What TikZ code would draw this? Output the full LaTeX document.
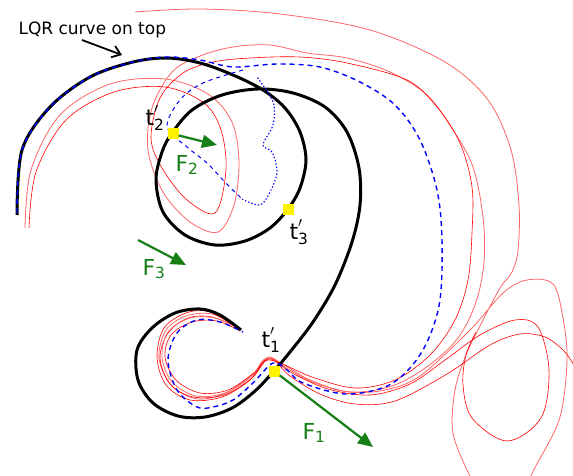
\documentclass[tikz,border=0pt]{standalone}
\usepackage{fontspec}
\setmainfont{DejaVu Sans}
\usepackage{tikz}
\usetikzlibrary{positioning,arrows.meta}
\definecolor{fgreen}{RGB}{22,128,22}
\newcommand{\tpr}[1]{$\mathrm{t}'_{\mathrm{#1}}$}
\newcommand{\fsub}[1]{$\mathrm{F}_{\mathrm{#1}}$}
\tikzset{
  traj/.style={black, line width=3pt, line join=round},
  lqr/.style={blue, line width=1.4pt, dash pattern=on 5pt off 4pt},
  lqrthin/.style={blue, line width=1pt, dash pattern=on 4pt off 4pt},
  lqrdot/.style={blue, line width=1.1pt, dash pattern=on 1.4pt off 2pt},
  sim/.style={red, line width=0.6pt},
  simlight/.style={red!60, line width=0.8pt},
  ypoint/.style={fill=yellow, minimum size=11pt, inner sep=0pt},
  force/.style={fgreen, line width=2.2pt, -{Triangle[length=15pt,width=13pt]}},
  flabel/.style={text=fgreen, font=\fontsize{22}{24}\selectfont},
  tlabel/.style={font=\fontsize{22}{24}\selectfont}
}

\begin{document}
\begin{tikzpicture}[x=1pt,y=-1pt]
\useasboundingbox (0,0) rectangle (573,476);

\draw[simlight] plot[smooth, tension=0.55] coordinates {(238,327) (212,314) (186,316) (166,330) (159,358) (172,386) (198,399) (228,392) (255,372) (269,357) (288,369) (315,383) (350,392) (385,390) (420,376) (470,330) (503,293) (527,280) (553,284) (563,318) (567,360) (560,417) (538,462) (515,500) (488,505) (470,476) (453,433) (455,390) (466,355) (482,322) (500,288) (512,272) (518,250) (519,205) (511,150) (488,100) (445,62) (370,30) (280,14) (200,9) (135,12)};
\draw[sim] plot[smooth, tension=0.55] coordinates {(240,330) (210,312) (186,313) (164,328) (157,357) (166,385) (190,400) (222,397) (250,380) (269,358) (290,376) (320,394) (355,404) (395,401) (447,374) (490,345) (520,334) (545,337) (563,350) (572,362) (578,372)};
\draw[sim] plot[smooth, tension=0.55] coordinates {(238,328) (212,317) (188,318) (168,333) (160,358) (170,384) (193,397) (224,395) (252,378) (269,359) (292,373) (328,389) (370,395) (410,384) (445,360) (480,335) (515,320) (538,327) (549,370) (541,418) (507,441) (472,418) (463,385) (466,355) (476,332)};
\draw[simlight] plot[smooth, tension=0.55] coordinates {(25,228) (31,170) (60,115) (110,84) (165,79) (208,94) (232,122) (239,162) (234,205) (218,232) (190,222) (163,192) (148,150) (152,108) (172,72) (200,56) (233,47) (270,45) (307,53) (347,58) (390,72) (427,95) (453,130) (473,167) (483,217) (484,262) (476,302) (458,338) (428,366) (392,386) (350,392) (310,380) (269,358) (252,376) (225,393) (196,396) (172,382) (162,357) (168,332) (190,318) (215,318) (238,328)};
\draw[sim] plot[smooth, tension=0.55] coordinates {(29,228) (36,172) (66,120) (114,92) (165,87) (204,103) (221,130) (226,170) (215,213) (186,199) (162,168) (151,138) (160,98) (183,73) (213,62) (250,58) (300,57) (347,63) (407,80) (437,107) (460,143) (472,187) (472,233) (468,280) (455,320) (430,355) (395,380) (355,388) (312,377) (270,360) (254,373) (228,390) (200,393) (176,380) (165,357) (171,335) (192,322) (217,321) (240,331)};

\draw[traj] plot[smooth, tension=0.55] coordinates {(17,215) (22,150) (50,107) (90,77) (133,62) (167,58) (200,63) (233,75) (263,90) (285,108) (300,132) (306,160) (300,188) (288,209) (270,228) (245,241) (215,245) (185,235) (163,212) (156,180) (162,152) (172,133) (192,110) (222,95) (258,89) (293,93) (325,107) (347,132) (359,168) (360,205) (352,242) (335,285) (313,322) (290,352) (274,371) (255,391) (232,408) (205,417) (178,416) (153,403) (138,380) (137,350) (152,328) (175,313) (200,309) (220,315) (241,330)};

\draw[lqr] plot[smooth, tension=0.55] coordinates {(17,213) (22,150) (50,107) (90,77) (133,62) (167,57) (200,60) (233,67) (277,64) (320,67) (360,82) (395,105) (420,140) (437,190) (442,240) (440,300) (428,340) (410,368) (385,387) (345,394) (303,383) (287,370) (273,363) (253,383) (233,400) (213,407) (197,407) (177,390) (168,360) (177,333) (197,320) (220,322) (243,332)};
\draw[lqrthin] plot[smooth, tension=0.55] coordinates {(243,70) (203,83) (180,100) (167,127) (187,147) (207,163) (223,180) (242,199)};
\draw[lqrdot] plot[smooth, tension=0.55] coordinates {(242,199) (260,205) (270,192) (277,172) (272,152) (263,145) (273,125) (274,105) (266,90) (257,77)};

\node[ypoint] (t1) at (274,371) {};
\node[ypoint] (t2) at (173,134) {};
\node[ypoint] (t3) at (288,209) {};

\node[tlabel] (l1) at (271,340) {\tpr{1}};
\node[tlabel] (l2) at (155,118) {\tpr{2}};
\node[tlabel] (l3) at (299,232) {\tpr{3}};

\coordinate (f1tip) at (373,447);
\coordinate (f2tip) at (217,145);
\coordinate (f3tip) at (186,265);
\coordinate (f3tail) at (138,240);
\draw[force] (t1) -- (f1tip);
\draw[force] (t2) -- (f2tip);
\draw[force] (f3tail) -- (f3tip);
\node[flabel] (n1) at (314,433) {\fsub{1}};
\node[flabel] (n2) at (187,165) {\fsub{2}};
\node[flabel] (n3) at (154,269) {\fsub{3}};

\node[font=\fontsize{17}{19}\selectfont, anchor=west] (note) at (15,30) {LQR curve on top};
\coordinate (notetip) at (122,55);
\draw[black, line width=1.8pt, -{Straight Barb[length=8pt,width=12pt]}] (82,40) -- (notetip);
\end{tikzpicture}
\end{document}
